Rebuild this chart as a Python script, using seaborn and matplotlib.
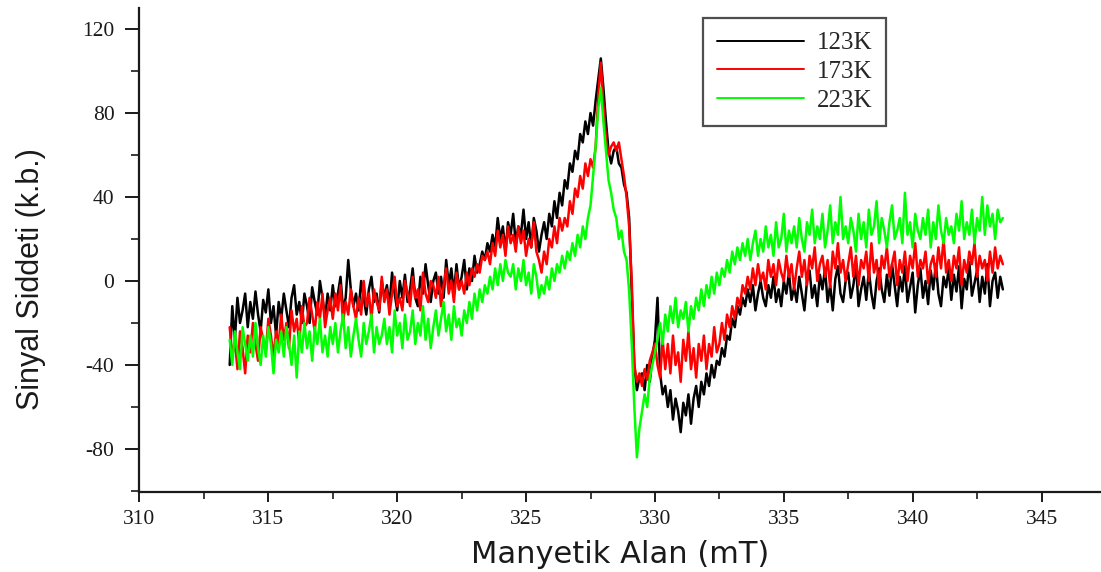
import numpy as np
import pandas as pd
import matplotlib
matplotlib.use("Agg")
import matplotlib.pyplot as plt
from matplotlib.ticker import MultipleLocator
import seaborn as sns

# Magnetic field sweep (mT), sampled every 0.1 mT
field_start = 313.5
field_step = 0.1

series_names = ["123K", "173K", "223K"]
series_colors = ["#000000", "#ff0000", "#00ff00"]

# one row of values per 1 mT
signal_123K = [
    -40, -12, -28, -8, -20, -14, -6, -22, -10, -18,
    -5, -16, -24, -9, -15, -4, -20, -12, -26, -10,
    -18, -6, -14, -22, -8, -2, -16, -10, -20, -6,
    -12, -20, -3, -10, -16, 0, -8, -18, -6, -14,
    -2, -12, -6, 2, -14, -8, 10, -4, -12, -6,
    -14, 0, -8, -16, -4, 2, -10, -6, -15, 0,
    -8, -2, -12, 4, -6, -14, 0, -8, 3, -10,
    -4, 6, -8, -12, 2, -6, 8, -2, -10, 0,
    4, -6, 2, -8, 10, -2, 6, -6, 8, -4,
    2, 10, -4, 6, 0, 12, 4, 8, 14, 10,
    18, 14, 22, 16, 30, 20, 26, 14, 28, 22,
    32, 18, 26, 22, 34, 20, 28, 16, 30, 24,
    14, 22, 28, 20, 32, 26, 38, 30, 42, 36,
    48, 44, 56, 52, 62, 58, 70, 66, 76, 70,
    80, 74, 86, 96, 106, 92, 76, 62, 56, 62,
    64, 56, 54, 46, 42, 30, -5, -40, -52, -46,
    -44, -52, -40, -48, -36, -28, -8, -44, -54, -50,
    -60, -52, -66, -56, -62, -72, -58, -64, -54, -68,
    -56, -50, -60, -48, -54, -44, -50, -40, -46, -38,
    -40, -32, -36, -26, -28, -18, -22, -12, -16, -8,
    -12, -4, -10, -2, -14, -6, 0, -8, -12, -2,
    -8, 2, -10, -4, -12, 0, -6, 4, -9, -3,
    -10, 2, -6, -14, 0, 5, -8, -2, -12, 3,
    -4, 6, -10, -2, -14, 1, 7, -6, -10, 0,
    4, -8, -2, 8, -12, -4, 2, -9, 5, -6,
    -13, 0, 6, -4, -10, 3, -7, 8, -2, -12,
    2, -5, 7, -10, -3, 4, -15, -2, 6, -8,
    0, -11, 5, -4, 8, -6, -12, 2, -3, 6,
    -9, 3, -5, 7, -13, 1, -4, 9, -7, -1,
    5, -10, 2, -6, 8, -12, 0, 4, -8, 2,
    -4,
]

signal_173K = [
    -22, -36, -28, -42, -24, -32, -44, -26, -34, -20,
    -30, -38, -22, -28, -34, -18, -26, -36, -24, -30,
    -16, -28, -20, -32, -14, -24, -18, -30, -12, -22,
    -20, -8, -16, -24, -10, -18, -6, -22, -14, -8,
    -18, -6, -14, -2, -20, -10, -16, -4, -12, -18,
    -8, -16, 0, -12, -6, -18, -4, -10, -14, 2,
    -10, -4, -16, -6, 2, -12, -8, -14, 0, -6,
    -12, 2, -8, -4, -14, 4, -6, -10, 0, -2,
    -8, 2, -12, -2, 6, -6, 0, -10, 4, -4,
    0, -6, 4, -2, 6, 2, 8, 4, 12, 10,
    14, 8, 18, 12, 24, 16, 22, 12, 26, 18,
    22, 14, 26, 18, 24, 12, 20, 16, 28, 14,
    10, 4, 14, 8, 20, 16, 26, 18, 30, 24,
    30, 26, 38, 32, 44, 40, 50, 44, 56, 50,
    58, 54, 64, 88, 104, 84, 68, 60, 64, 66,
    62, 66, 58, 50, 40, 26, 0, -40, -48, -44,
    -50, -42, -47, -38, -34, -30, -40, -46, -28, -42,
    -30, -44, -26, -40, -34, -48, -28, -38, -24, -42,
    -32, -46, -30, -38, -26, -42, -30, -36, -22, -34,
    -30, -20, -28, -16, -22, -12, -18, -8, -12, -2,
    -6, 2, -4, 6, -2, 8, 0, 4, -4, 10,
    2, 8, -2, 10, 4, 0, 12, 2, 8, -4,
    6, 14, 2, 10, -2, 12, 6, 16, 0, 8,
    12, 2, 10, -3, 14, 6, 18, 4, 10, 0,
    8, 16, 2, 12, -2, 10, 6, 14, 0, 18,
    4, 10, -4, 12, 6, 16, 2, 8, 14, -2,
    10, 4, 14, 0, 12, 6, 18, 2, 10, 6,
    14, -1, 8, 12, 2, 16, 6, 20, 4, 10,
    0, 12, 6, 16, -2, 10, 4, 14, 8, 18,
    2, 12, 6, 10, 0, 14, 4, 16, 6, 12,
    8,
]

signal_223K = [
    -28, -40, -24, -34, -42, -22, -30, -38, -26, -36,
    -20, -32, -40, -26, -36, -22, -30, -44, -28, -34,
    -24, -36, -22, -30, -40, -26, -46, -24, -34, -20,
    -32, -24, -38, -22, -30, -18, -34, -26, -36, -22,
    -30, -20, -34, -24, -16, -32, -22, -36, -26, -18,
    -28, -36, -20, -30, -24, -16, -34, -22, -30, -26,
    -18, -30, -22, -34, -14, -26, -20, -32, -16, -28,
    -24, -14, -30, -20, -26, -12, -28, -18, -32, -22,
    -14, -26, -18, -10, -24, -16, -28, -12, -22, -18,
    -26, -14, -20, -10, -18, -6, -14, -4, -10, -2,
    -6, 2, -4, 6, -2, 8, 0, 10, 4, 2,
    8, -4, 6, 0, 10, -2, 4, -6, 8, 2,
    -8, -2, -6, 2, -4, 6, 0, 8, 4, 12,
    6, 14, 10, 18, 12, 22, 16, 26, 20, 30,
    36, 50, 64, 82, 92, 76, 62, 48, 42, 34,
    30, 20, 24, 14, 10, -5, -30, -60, -84, -70,
    -62, -54, -60, -46, -40, -34, -28, -20, -30, -16,
    -24, -12, -20, -8, -22, -14, -18, -10, -24, -12,
    -18, -8, -14, -4, -12, -2, -8, 2, -6, 4,
    -2, 6, 2, 10, 4, 14, 8, 16, 10, 18,
    12, 20, 10, 18, 24, 12, 20, 14, 26, 16,
    22, 12, 28, 16, 20, 32, 14, 24, 18, 26,
    16, 30, 20, 14, 28, 22, 34, 18, 26, 20,
    32, 16, 24, 36, 18, 28, 22, 40, 20, 26,
    18, 30, 24, 14, 32, 20, 28, 16, 34, 22,
    26, 38, 18, 30, 24, 16, 28, 36, 20, 24,
    30, 18, 42, 22, 28, 16, 32, 24, 20, 30,
    22, 34, 16, 28, 20, 36, 24, 18, 30, 22,
    26, 18, 32, 24, 38, 20, 28, 22, 34, 18,
    30, 24, 40, 22, 36, 26, 32, 20, 34, 28,
    30,
]

x_ticks = [310, 315, 320, 325, 330, 335, 340, 345]
y_ticks = [-80, -40, 0, 40, 80, 120]

signals = [signal_123K, signal_173K, signal_223K]
frames = []
for name, values in zip(series_names, signals):
    field = field_start + field_step * np.arange(len(values))
    frames.append(pd.DataFrame({"field": field, "signal": values, "T": name}))
data = pd.concat(frames, ignore_index=True)

sns.set_style("ticks")
plt.rcParams["font.family"] = ["Liberation Serif", "DejaVu Serif"]
plt.rcParams["axes.unicode_minus"] = False

fig = plt.figure(figsize=(11.01, 5.72), dpi=100)
ax = fig.add_axes([0.1267, 0.1399, 0.8724, 0.846])

sns.lineplot(
    data=data, x="field", y="signal", hue="T",
    hue_order=series_names, palette=series_colors,
    estimator=None, sort=False, linewidth=1.8, ax=ax,
)

ax.set_xlim(310, 347.27)
ax.set_ylim(-100.5, 130)
ax.set_xticks(x_ticks)
ax.set_yticks(y_ticks)
ax.xaxis.set_minor_locator(MultipleLocator(2.5))
ax.yaxis.set_minor_locator(MultipleLocator(20))

for side in ("top", "right"):
    ax.spines[side].set_visible(False)
for side in ("left", "bottom"):
    ax.spines[side].set_linewidth(1.6)
    ax.spines[side].set_color("#1a1a1a")

ax.tick_params(axis="y", which="major", length=10, width=1.4, pad=8,
               labelsize=15.5, direction="out", colors="#1a1a1a")
ax.tick_params(axis="y", which="minor", length=5.5, width=1.2, direction="out",
               colors="#1a1a1a")
ax.tick_params(axis="x", which="major", length=7, width=1.4, pad=6,
               labelsize=15.5, direction="out", colors="#1a1a1a")
ax.tick_params(axis="x", which="minor", length=5, width=1.2, direction="out",
               colors="#1a1a1a")

ax.set_xlabel("Manyetik Alan (mT)", fontsize=22, family=["DejaVu Sans"],
              labelpad=8, color="#1a1a1a")
ax.set_ylabel("Sinyal Siddeti (k.b.)", fontsize=22,
              family=["Liberation Sans Narrow", "Liberation Sans"],
              color="#1a1a1a")
ax.yaxis.set_label_coords(-0.097, 0.44)

leg = ax.legend(
    loc="upper left", bbox_to_anchor=(0.5867, 0.979), borderaxespad=0,
    frameon=True, fancybox=False, fontsize=18, handlelength=3.5,
    handletextpad=0.5, labelspacing=0.25, borderpad=0.55, title=None,
)
leg.get_frame().set_edgecolor("#222222")
leg.get_frame().set_linewidth(1.6)
for line in leg.get_lines():
    line.set_linewidth(1.4)

fig.savefig("out.png", dpi=100)
